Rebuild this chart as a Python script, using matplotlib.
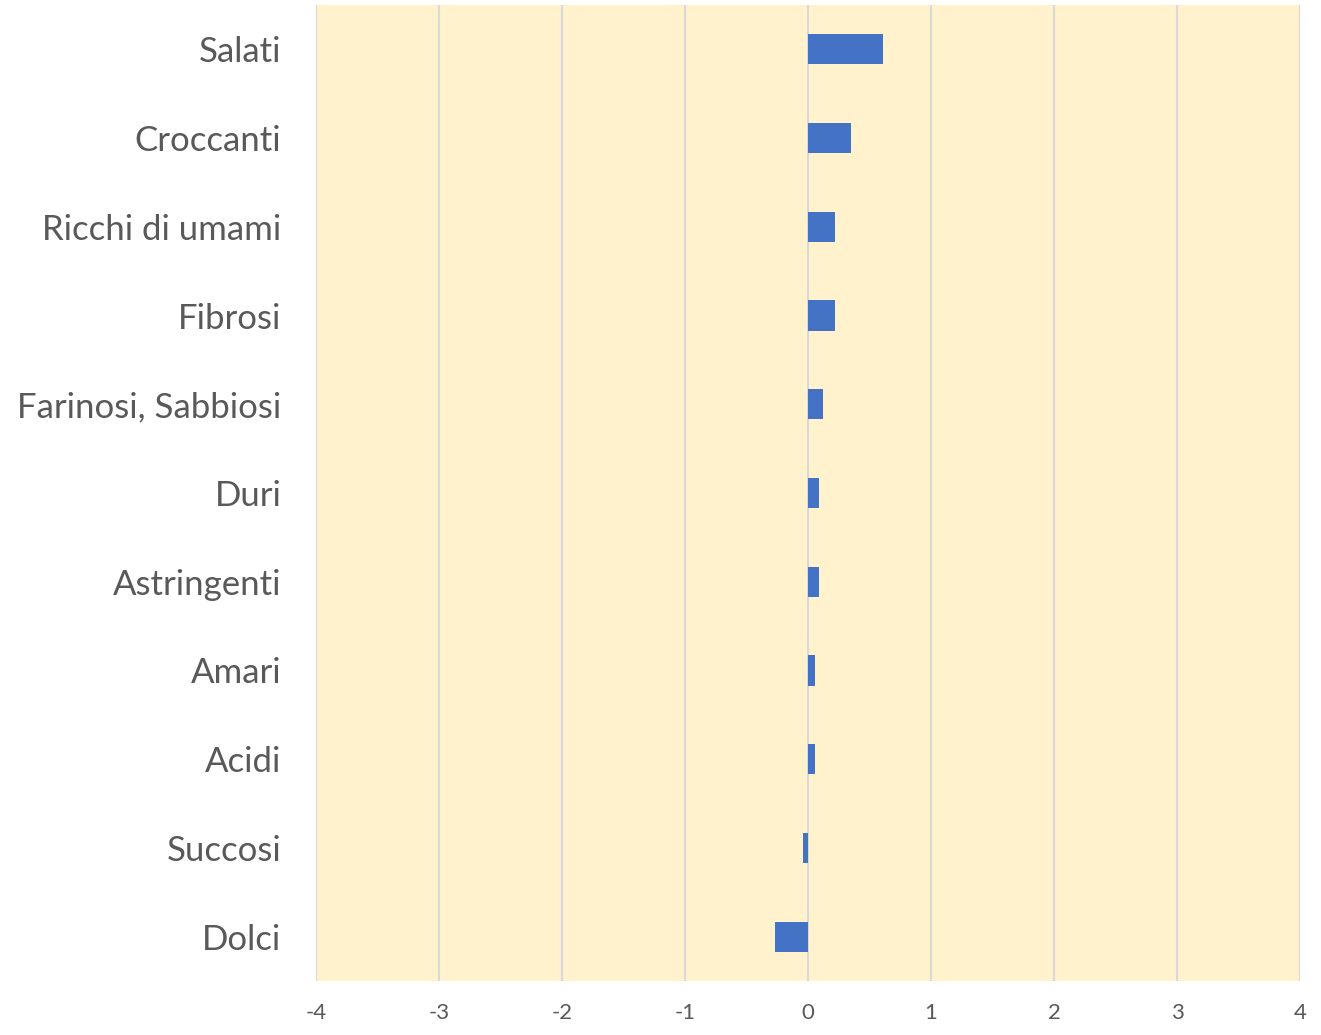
import matplotlib
matplotlib.use('Agg')
import matplotlib.pyplot as plt

categories = ["Salati", "Croccanti", "Ricchi di umami", "Fibrosi", "Farinosi, Sabbiosi",
              "Duri", "Astringenti", "Amari", "Acidi", "Succosi", "Dolci"]
values = [0.61, 0.35, 0.22, 0.22, 0.12, 0.09, 0.09, 0.055, 0.055, -0.04, -0.27]
x_ticks = [-4, -3, -2, -1, 0, 1, 2, 3, 4]

plt.rcParams['font.family'] = ['Lato', 'DejaVu Sans']

fig = plt.figure(figsize=(13.21, 10.35), dpi=100)
ax = fig.add_axes([316 / 1321, 1 - 981 / 1035, (1300 - 316) / 1321, (981 - 5) / 1035])

ypos = list(range(len(categories)))[::-1]
ax.barh(ypos, values, height=0.34, color="#4472C4", zorder=3)

ax.set_facecolor("#FFF2CC")
ax.set_xlim(-4, 4)
ax.set_ylim(-0.5, len(categories) - 0.5)
ax.set_xticks(x_ticks)
ax.set_xticklabels([str(t) for t in x_ticks])
ax.set_yticks(ypos)
ax.set_yticklabels(categories)
ax.grid(axis='x', color="#D9D9D9", linewidth=1.5, zorder=1)
ax.tick_params(axis='y', length=0, pad=25, labelsize=25, labelcolor="#595959")
ax.tick_params(axis='x', length=0, pad=16, labelsize=16, labelcolor="#595959")
for s in ax.spines.values():
    s.set_visible(False)

plt.savefig("out.png", dpi=100)
plt.close()
